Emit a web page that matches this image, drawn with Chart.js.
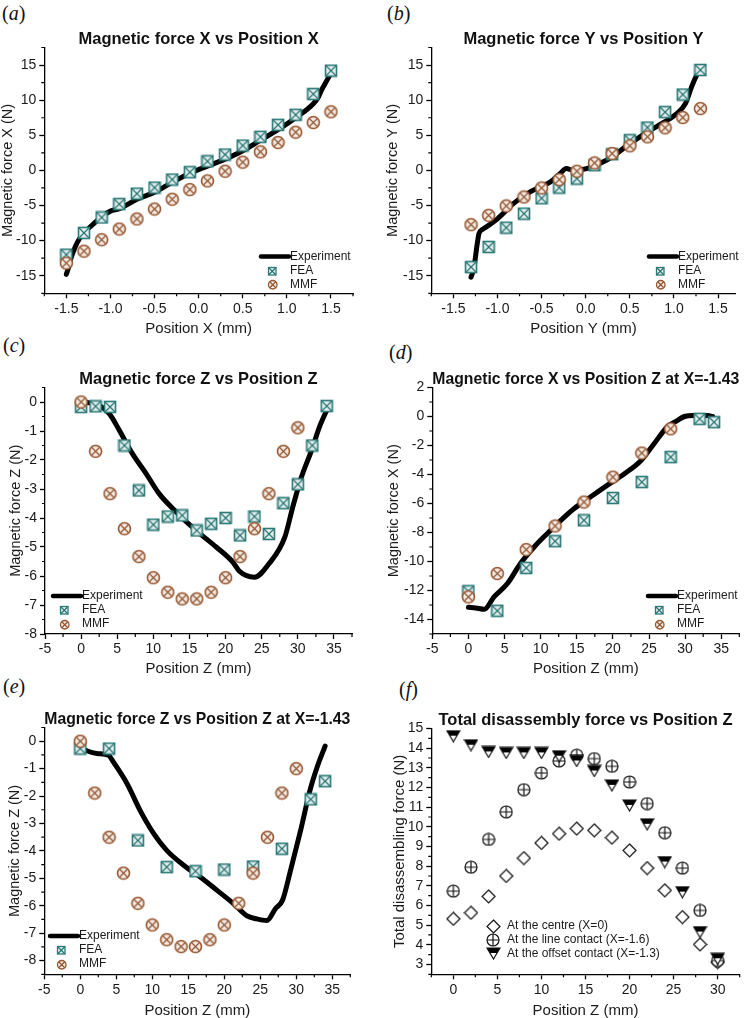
<!DOCTYPE html>
<html><head><meta charset="utf-8">
<script src="https://cdn.jsdelivr.net/npm/chart.js@4.4.1/dist/chart.umd.min.js"></script>
<style>
html,body{margin:0;padding:0;background:#fff}
body{width:748px;height:1018px;position:relative;overflow:hidden}
.pl{position:absolute;font-family:"Liberation Serif","DejaVu Serif",serif;font-size:20px;line-height:20px;color:#111;white-space:nowrap}
.pl i{font-style:italic}
canvas{position:absolute}
</style></head><body>
<div class="pl" style="left:2px;top:3px">(<i>a</i>)</div>
<div class="pl" style="left:387px;top:3px">(<i>b</i>)</div>
<div class="pl" style="left:3px;top:335px">(<i>c</i>)</div>
<div class="pl" style="left:389px;top:342px">(<i>d</i>)</div>
<div class="pl" style="left:3px;top:676px">(<i>e</i>)</div>
<div class="pl" style="left:399px;top:679px">(<i>f</i>)</div>
<canvas id="cA" width="370" height="305" style="left:0;top:31px"></canvas>
<canvas id="cB" width="374" height="305" style="left:374px;top:31px"></canvas>
<canvas id="cC" width="370" height="305" style="left:0;top:371px"></canvas>
<canvas id="cD" width="374" height="305" style="left:374px;top:371px"></canvas>
<canvas id="cE" width="370" height="307" style="left:0;top:711px"></canvas>
<canvas id="cF" width="374" height="306" style="left:374px;top:712px"></canvas>
<script>
// ---------------- DATA ----------------
// (a) Magnetic force X vs Position X
const posA = [-1.5,-1.3,-1.1,-0.9,-0.7,-0.5,-0.3,-0.1,0.1,0.3,0.5,0.7,0.9,1.1,1.3,1.5];
const feaA = [-12.0,-8.9,-6.7,-4.8,-3.3,-2.45,-1.3,-0.26,1.3,2.26,3.54,4.78,6.49,7.92,10.87,14.2];
const mmfA = [-13.2,-11.5,-9.87,-8.35,-6.92,-5.5,-4.1,-2.73,-1.5,-0.12,1.17,2.64,3.97,5.44,6.82,8.35];
const expAx = [-1.5,-1.47,-1.45,-1.4,-1.35,-1.3,-1.2,-1.1,-1.0,-0.9,-0.7,-0.5,-0.3,-0.1,0.1,0.3,0.5,0.7,0.9,1.1,1.3,1.36,1.4,1.44,1.48];
const expAy = [-14.8,-13.6,-12.6,-10.9,-9.7,-8.9,-7.7,-6.6,-5.8,-5.45,-4.1,-3.1,-1.7,-0.4,0.6,1.6,2.8,4.3,5.8,7.5,9.5,10.5,11.6,12.5,13.4];
const ticksAx = [-1.5,-1.0,-0.5,0.0,0.5,1.0,1.5];
const ticksAy = [-15,-10,-5,0,5,10,15];

// (b) Magnetic force Y vs Position Y
const posB = [-1.3,-1.1,-0.9,-0.7,-0.5,-0.3,-0.1,0.1,0.3,0.5,0.7,0.9,1.1,1.3];
const feaB = [-13.77,-10.9,-8.15,-6.16,-3.97,-2.45,-1.17,0.74,2.3,4.3,6.1,8.3,10.8,14.3];
const mmfB = [-7.73,-6.4,-5.06,-3.78,-2.5,-1.31,-0.12,1.07,2.4,3.5,4.78,6.06,7.53,8.8];
const expBx = [-1.3,-1.28,-1.26,-1.23,-1.21,-1.17,-1.13,-1.0,-0.82,-0.63,-0.4,-0.29,-0.22,-0.14,0.01,0.16,0.3,0.45,0.64,0.83,1.01,1.13,1.2,1.26,1.29];
const expBy = [-15.2,-14.5,-13.3,-10.5,-9.0,-8.4,-8.07,-6.9,-4.73,-3.07,-1.64,-0.45,0.26,0.0,0.26,0.98,1.93,3.35,5.0,6.45,7.87,9.5,11.9,13.6,14.2];
const ticksBx = [-1.5,-1.0,-0.5,0.0,0.5,1.0,1.5];
const ticksBy = [-15,-10,-5,0,5,10,15];

// (c) Magnetic force Z vs Position Z
const posCfea = [0,2,4,6,8,10,12,14,16,18,20,22,24,26,28,30,32,34];
const feaC = [-0.17,-0.15,-0.17,-1.5,-3.05,-4.23,-3.95,-3.91,-4.43,-4.2,-4.0,-4.6,-3.95,-4.55,-3.49,-2.84,-1.5,-0.14];
const posCmmf = [0,2,4,6,8,10,12,14,16,18,20,22,24,26,28,30];
const mmfC = [0,-1.7,-3.16,-4.37,-5.33,-6.06,-6.56,-6.79,-6.79,-6.56,-6.06,-5.33,-4.37,-3.16,-1.7,-0.89];
const expCx = [0.5,2.5,3.9,5.3,7.1,9.0,10.8,13.2,15.9,18.7,21.0,21.9,24.0,26.0,28.2,29.3,30.5,31.9,33.0,34.1];
const expCy = [0,-0.12,-0.4,-0.98,-1.78,-2.47,-3.16,-3.8,-4.43,-5.0,-5.52,-5.83,-6.04,-5.58,-4.66,-3.62,-2.59,-1.67,-0.86,-0.23];
const ticksCx = [-5,0,5,10,15,20,25,30,35];
const ticksCy = [-8,-7,-6,-5,-4,-3,-2,-1,0];

// (d) Magnetic force X vs Position Z at X=-1.43
const posDfea = [0,4,8,12,16,20,24,28,32,34];
const feaD = [-12.05,-13.4,-10.44,-8.6,-7.16,-5.62,-4.52,-2.8,-0.16,-0.39];
const posDmmf = [0,4,8,12,16,20,24,28];
const mmfD = [-12.44,-10.83,-9.18,-7.55,-5.9,-4.18,-2.52,-0.85];
const expDx = [0,1.0,2.2,3.55,5.4,7.2,9.1,10.9,12.8,14.6,16.9,19.2,21.6,23.9,25.7,27.5,28.9,29.9,31.2,33.1,33.8];
const expDy = [-13.15,-13.2,-13.3,-12.44,-11.52,-10.14,-9.0,-8.08,-7.16,-6.36,-5.55,-4.75,-3.95,-3.03,-1.88,-0.73,-0.28,0,0.07,0.07,0];
const ticksDx = [-5,0,5,10,15,20,25,30,35];
const ticksDy = [-14,-12,-10,-8,-6,-4,-2,0,2];

// (e) Magnetic force Z vs Position Z at X=-1.43
const posEfea = [0,4,8,12,16,20,24,28,32,34];
const feaE = [-0.27,-0.27,-3.62,-4.59,-4.74,-4.68,-4.57,-3.92,-2.12,-1.46];
const posEmmf = [0,2,4,6,8,10,12,14,16,18,20,22,24,26,28,30];
const mmfE = [0,-1.89,-3.5,-4.81,-5.91,-6.7,-7.24,-7.49,-7.49,-7.24,-6.7,-5.91,-4.81,-3.5,-1.89,-1.0];
const expEx = [0.1,2.3,3.9,4.6,6.5,8.3,10.2,12,14.4,16.7,19,21.3,23.1,24.5,25.9,27.1,28.1,29.2,30.6,31.9,32.9,34];
const expEy = [-0.27,-0.45,-0.51,-0.76,-1.55,-2.52,-3.37,-3.98,-4.53,-4.96,-5.44,-5.93,-6.36,-6.48,-6.54,-6.11,-5.79,-4.71,-3.25,-1.79,-0.94,-0.18];
const ticksEx = [-5,0,5,10,15,20,25,30,35];
const ticksEy = [-8,-7,-6,-5,-4,-3,-2,-1,0];

// (f) Total disassembly force vs Position Z
const posF = [0,2,4,6,8,10,12,14,16,18,20,22,24,26,28,30];
const centreF = [5.32,5.63,6.46,7.50,8.41,9.18,9.65,9.91,9.82,9.45,8.80,7.90,6.77,5.41,4.02,3.12];
const lineF = [6.73,7.95,9.36,10.76,11.89,12.74,13.35,13.64,13.47,13.08,12.28,11.18,9.70,7.90,5.75,3.2];
const offsetF = [14.61,14.15,13.81,13.76,13.76,13.76,13.59,13.35,12.84,12.11,11.09,10.13,8.21,6.68,4.65,3.29];
const ticksFx = [0,5,10,15,20,25,30];
const ticksFy = [3,4,5,6,7,8,9,10,11,12,13,14,15];

// ---------------- STYLE ----------------
const FONT = '"Liberation Sans", Arial, Helvetica, sans-serif';
Chart.defaults.font.family = FONT;
Chart.defaults.color = '#1a1a1a';
Chart.defaults.animation = false;

const FEA_STROKE = '#2c7a77', FEA_FILL = '#e3f0ef', FEA_X = '#25706d';
const MMF_STROKE = '#985630', MMF_FILL = '#f5ebe3', MMF_X = '#8c512d';

function mk(w, h, draw) { const c = document.createElement('canvas'); c.width = w; c.height = h; draw(c.getContext('2d'), w, h); return c; }
function feaMarker(s, lw) {
  return mk(s + 3, s + 3, g => {
    const a = 1.5, b = s + 1.5;
    g.fillStyle = FEA_FILL; g.fillRect(a, a, s, s);
    g.strokeStyle = FEA_X; g.lineWidth = 1.1; g.beginPath(); g.moveTo(a, a); g.lineTo(b, b); g.moveTo(b, a); g.lineTo(a, b); g.stroke();
    g.strokeStyle = FEA_STROKE; g.lineWidth = lw; g.strokeRect(a, a, s, s);
  });
}
function mmfMarker(s, lw) {
  return mk(s + 3, s + 3, g => {
    const c = s / 2 + 1.5, r = s / 2, d = r * Math.SQRT1_2;
    g.fillStyle = MMF_FILL; g.beginPath(); g.arc(c, c, r, 0, Math.PI * 2); g.fill();
    g.strokeStyle = MMF_X; g.lineWidth = 1.1; g.beginPath(); g.moveTo(c - d, c - d); g.lineTo(c + d, c + d); g.moveTo(c + d, c - d); g.lineTo(c - d, c + d); g.stroke();
    g.strokeStyle = MMF_STROKE; g.lineWidth = lw; g.beginPath(); g.arc(c, c, r, 0, Math.PI * 2); g.stroke();
  });
}
function diamondMarker(s) {
  return mk(s + 2, s + 2, g => {
    const c = s / 2 + 1;
    g.beginPath(); g.moveTo(c, 1); g.lineTo(s + 1, c); g.lineTo(c, s + 1); g.lineTo(1, c); g.closePath();
    g.fillStyle = '#fff'; g.fill(); g.strokeStyle = '#111'; g.lineWidth = 1.2; g.stroke();
  });
}
function plusCircleMarker(s) {
  return mk(s + 2, s + 2, g => {
    const c = s / 2 + 1, r = s / 2;
    g.beginPath(); g.arc(c, c, r, 0, Math.PI * 2); g.fillStyle = '#fff'; g.fill();
    g.strokeStyle = '#111'; g.lineWidth = 1.2; g.stroke();
    g.beginPath(); g.moveTo(c - r, c); g.lineTo(c + r, c); g.moveTo(c, c - r); g.lineTo(c, c + r); g.stroke();
  });
}
function halfTriMarker(w, h) {
  return mk(w + 2, h + 2, g => {
    const l = 1, r = w + 1, t = 1, b = h + 1, cx = (l + r) / 2, m = t + h * 0.45;
    const k = (m - t) / h, hw = (w / 2) * (1 - k);
    g.beginPath(); g.moveTo(l, t); g.lineTo(r, t); g.lineTo(cx, b); g.closePath();
    g.fillStyle = '#fff'; g.fill();
    g.beginPath(); g.moveTo(l, t); g.lineTo(r, t); g.lineTo(cx + hw, m); g.lineTo(cx - hw, m); g.closePath();
    g.fillStyle = '#000'; g.fill();
    g.beginPath(); g.moveTo(l, t); g.lineTo(r, t); g.lineTo(cx, b); g.closePath();
    g.strokeStyle = '#111'; g.lineWidth = 1.2; g.stroke();
  });
}
const feaBig = feaMarker(11, 1.6), feaSmall = feaMarker(7.5, 1.3);
const mmfBig = mmfMarker(12, 1.6), mmfSmall = mmfMarker(8.5, 1.3);
const diaImg = diamondMarker(13), pcImg = plusCircleMarker(12), triImg = halfTriMarker(13, 11);

const pts = (xs, ys) => xs.map((x, i) => ({ x: x, y: ys[i] }));
const fmt1 = v => v.toFixed(1);
const fmt0 = v => String(v);

// minor ticks + custom legend plugin (per chart)
function makeExtras(leg) {
  return {
    id: 'extras',
    afterDraw(chart) {
      const ctx = chart.ctx; ctx.save();
      ctx.strokeStyle = '#000'; ctx.lineWidth = 1.2;
      ['x', 'y'].forEach(id => {
        const s = chart.scales[id]; const tv = s.ticks.map(t => t.value);
        const step = tv[1] - tv[0];
        ctx.beginPath();
        for (let v = tv[0] - step / 2; v <= s.max + 1e-9; v += step) {
          if (v < s.min - 1e-9) continue;
          if (tv.some(t => Math.abs(t - v) < 1e-9)) continue;
          const p = s.getPixelForValue(v);
          if (id === 'x') { ctx.moveTo(p, s.top); ctx.lineTo(p, s.top + 3); }
          else { ctx.moveTo(s.right, p); ctx.lineTo(s.right - 3, p); }
        }
        ctx.stroke();
      });
      ctx.font = '12px ' + FONT; ctx.textBaseline = 'middle'; ctx.textAlign = 'left'; ctx.fillStyle = '#1a1a1a';
      chart.data.datasets.forEach((ds, i) => {
        const y = leg.y + i * leg.row;
        if (ds.showLine) {
          ctx.strokeStyle = '#000'; ctx.lineWidth = 4.5; ctx.lineCap = 'round';
          ctx.beginPath(); ctx.moveTo(leg.x + 2, y); ctx.lineTo(leg.x + leg.lineLen, y); ctx.stroke();
        } else {
          const img = leg.imgs[i];
          ctx.drawImage(img, Math.round(leg.x + leg.mark - img.width / 2), Math.round(y - img.height / 2));
        }
        ctx.fillText(ds.label, leg.x + leg.text, y);
      });
      ctx.restore();
    }
  };
}

function axis(o) {
  return {
    type: 'linear', position: o.pos, min: o.min, max: o.max,
    border: { display: true, color: '#000', width: 1.3 },
    grid: { display: true, drawOnChartArea: false, drawTicks: true, tickLength: 5, tickColor: '#000', tickWidth: 1.3 },
    ticks: { autoSkip: false, maxRotation: 0, font: { size: 14 }, color: '#1a1a1a', padding: o.pos === 'left' ? 3 : 2, callback: o.fmt },
    afterBuildTicks: s => { s.ticks = o.ticks.map(v => ({ value: v })); },
    afterFit: s => { if (o.pos === 'left') s.width = o.size; else s.height = o.size; },
    title: { display: true, text: o.title, font: { size: o.tsize || 14.5, lineHeight: 1 }, padding: 0, color: '#1a1a1a' }
  };
}

function expSet(xs, ys) {
  return { label: 'Experiment', data: pts(xs, ys), showLine: true, borderColor: '#000', backgroundColor: '#000',
    borderWidth: 5, pointRadius: 0, cubicInterpolationMode: 'monotone', borderCapStyle: 'round', borderJoinStyle: 'round', order: 3 };
}
function markSet(label, xs, ys, img, order) {
  return { label: label, data: pts(xs, ys), showLine: false, pointStyle: img, pointRadius: 5, order: order };
}

function panel(id, p) {
  new Chart(document.getElementById(id), {
    type: 'scatter',
    data: { datasets: p.datasets },
    options: {
      responsive: false, devicePixelRatio: 1, animation: false,
      layout: { padding: { left: p.padL, right: p.padR, top: p.padT || 0, bottom: 0 } },
      plugins: {
        legend: { display: false }, tooltip: { enabled: false },
        title: { display: true, text: p.title, fullSize: false, color: '#111',
          font: { size: 16.5, weight: 'bold', lineHeight: 1 }, padding: { top: 0, bottom: 0 } }
      },
      scales: { x: axis(p.x), y: axis(p.y) }
    },
    plugins: [makeExtras(p.legend)]
  });
}

const legMF = (x, y) => ({ x: x, y: y, row: 14, lineLen: 30, mark: 13, text: 31, imgs: [null, feaSmall, mmfSmall] });

panel('cA', {
  title: 'Magnetic force X vs Position X', padL: 0.5, padR: 17,
  datasets: [expSet(expAx, expAy), markSet('FEA', posA, feaA, feaBig, 2), markSet('MMF', posA, mmfA, mmfBig, 1)],
  x: { pos: 'bottom', min: -1.75, max: 1.75, ticks: ticksAx, fmt: fmt1, size: 42.7, title: 'Position X (mm)', tsize: 15 },
  y: { pos: 'left', min: -17.5, max: 17.5, ticks: ticksAy, fmt: fmt0, size: 43.8, title: 'Magnetic force X (N)' },
  legend: legMF(259, 225.5)
});
panel('cB', {
  title: 'Magnetic force Y vs Position Y', padL: 12, padR: 12.3,
  datasets: [expSet(expBx, expBy), markSet('FEA', posB, feaB, feaBig, 2), markSet('MMF', posB, mmfB, mmfBig, 1)],
  x: { pos: 'bottom', min: -1.75, max: 1.7, ticks: ticksBx, fmt: fmt1, size: 42.7, title: 'Position Y (mm)', tsize: 15 },
  y: { pos: 'left', min: -17.5, max: 17.5, ticks: ticksBy, fmt: fmt0, size: 45.3, title: 'Magnetic force Y (N)' },
  legend: legMF(273, 225.5)
});
panel('cC', {
  title: 'Magnetic force Z vs Position Z', padL: 9, padR: 18,
  datasets: [expSet(expCx, expCy), markSet('FEA', posCfea, feaC, feaBig, 2), markSet('MMF', posCmmf, mmfC, mmfBig, 1)],
  x: { pos: 'bottom', min: -5, max: 37.5, ticks: ticksCx, fmt: fmt0, size: 42, title: 'Position Z (mm)', tsize: 15 },
  y: { pos: 'left', min: -8, max: 0.5, ticks: ticksCy, fmt: fmt0, size: 36, title: 'Magnetic force Z (N)' },
  legend: legMF(51, 225)
});
panel('cD', {
  title: 'Magnetic force X vs Position Z at X=-1.43', padL: 13, padR: 8.7,
  datasets: [expSet(expDx, expDy), markSet('FEA', posDfea, feaD, feaBig, 2), markSet('MMF', posDmmf, mmfD, mmfBig, 1)],
  x: { pos: 'bottom', min: -5, max: 37.5, ticks: ticksDx, fmt: fmt0, size: 42, title: 'Position Z (mm)', tsize: 15 },
  y: { pos: 'left', min: -15, max: 2, ticks: ticksDy, fmt: fmt0, size: 45.3, title: 'Magnetic force X (N)' },
  legend: legMF(272, 225)
});
panel('cE', {
  title: 'Magnetic force Z vs Position Z at X=-1.43', padL: 8, padR: 19.7,
  datasets: [expSet(expEx, expEy), markSet('FEA', posEfea, feaE, feaBig, 2), markSet('MMF', posEmmf, mmfE, mmfBig, 1)],
  x: { pos: 'bottom', min: -5, max: 37.5, ticks: ticksEx, fmt: fmt0, size: 43.7, title: 'Position Z (mm)', tsize: 15 },
  y: { pos: 'left', min: -8.5, max: 0.5, ticks: ticksEy, fmt: fmt0, size: 36.3, title: 'Magnetic force Z (N)' },
  legend: legMF(48, 225)
});
panel('cF', {
  title: 'Total disassembly force vs Position Z', padL: 18.3, padR: 8.3,
  datasets: [
    markSet('At the centre (X=0)', posF, centreF, diaImg, 3),
    markSet('At the line contact (X=-1.6)', posF, lineF, pcImg, 2),
    markSet('At the offset contact (X=-1.3)', posF, offsetF, triImg, 1)
  ],
  x: { pos: 'bottom', min: -2.5, max: 32.5, ticks: ticksFx, fmt: fmt0, size: 43.7, title: 'Position Z (mm)', tsize: 15 },
  y: { pos: 'left', min: 2.5, max: 15, ticks: ticksFy, fmt: fmt0, size: 39, title: 'Total disassembling force (N)', tsize: 15 },
  legend: { x: 119, y: 214, row: 13.7, mark: 0, text: 14, imgs: [diaImg, pcImg, triImg] }
});
</script>
</body></html>
